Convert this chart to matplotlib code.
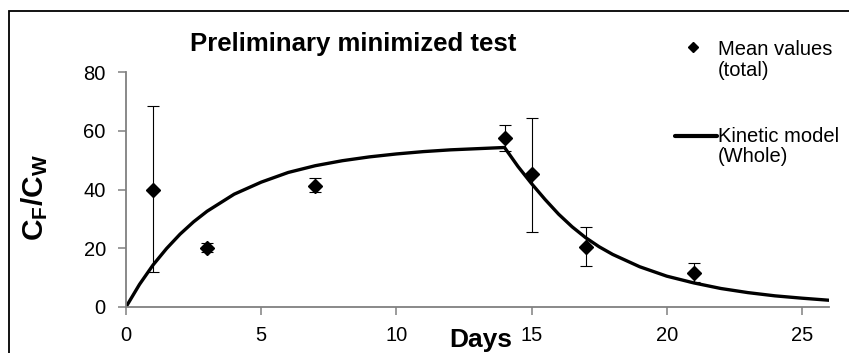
import matplotlib
matplotlib.use("Agg")
import matplotlib.pyplot as plt
from matplotlib.patches import Rectangle
from matplotlib.lines import Line2D

plt.rcParams["font.family"] = ["Liberation Sans", "DejaVu Sans"]
plt.rcParams["mathtext.fontset"] = "custom"
plt.rcParams["mathtext.rm"] = "Liberation Sans"
plt.rcParams["mathtext.bf"] = "Liberation Sans:bold"

# measured means (total) with error bar ends
days = [1, 3, 7, 14, 15, 17, 21]
means = [40.0, 20.2, 41.3, 57.6, 45.3, 20.5, 11.7]
err_low = [28.0, 1.5, 2.2, 4.6, 19.7, 6.5, 3.3]
err_high = [28.4, 1.5, 2.6, 4.5, 19.2, 6.6, 3.3]

# kinetic model (whole)
model_days = [0, 0.5, 1, 1.5, 2, 2.5, 3, 4, 5, 6, 7, 8, 9, 10, 11, 12, 13, 14,
              14.5, 15, 15.5, 16, 16.5, 17, 17.5, 18, 19, 20, 21, 22, 23, 24, 25, 26]
model_vals = [0.0, 7.7, 14.3, 19.9, 24.8, 29.0, 32.6, 38.4, 42.5, 45.8, 48.1, 49.8,
              51.1, 52.1, 52.9, 53.5, 53.9, 54.3,
              47.8, 42.0, 36.6, 31.6, 27.3, 23.6, 20.5, 17.9, 13.7, 10.5, 8.2,
              6.3, 4.9, 3.8, 3.0, 2.3]

fig = plt.figure(figsize=(8.49, 3.53), dpi=100)
ax = fig.add_axes([126 / 849, 46 / 353, 703 / 849, 235 / 353])

ax.plot(model_days, model_vals, color="black", lw=2.4, zorder=2)
ax.errorbar(days, means, yerr=[err_low, err_high], fmt="D", color="black",
            ms=7.5, elinewidth=0.8, capsize=4, capthick=0.8, zorder=3)

ax.set_xlim(0, 26)
ax.set_ylim(0, 80)
ax.set_xticks([0, 5, 10, 15, 20, 25])
ax.set_yticks([0, 20, 40, 60, 80])
for s in ["top", "right"]:
    ax.spines[s].set_visible(False)
for s in ["left", "bottom"]:
    ax.spines[s].set_color("#808080")
    ax.spines[s].set_linewidth(1.3)
ax.tick_params(direction="out", length=5.5, width=1.1, color="#808080",
               labelsize=14.5)
ax.tick_params(axis="y", pad=9)
ax.tick_params(axis="x", pad=8)

ax.set_xlabel("Days", fontsize=19, fontweight="bold", va="center")
ax.xaxis.set_label_coords(0.505, -0.14)
ax.set_ylabel(r"$\mathbf{C_F/C_W}$", fontsize=21.5, va="center")
ax.yaxis.set_label_coords(-0.13, 0.468)

ax.text(0.323, 1.12, "Preliminary minimized test", transform=ax.transAxes,
        ha="center", va="center", fontsize=18.5, fontweight="bold")

# legend drawn by hand to match the layout
ax.add_line(Line2D([0.8065], [1.106], marker="D", ms=5.5, color="black",
                   transform=ax.transAxes, clip_on=False))
ax.add_line(Line2D([0.781, 0.841], [0.728, 0.728], lw=3, color="black",
                   transform=ax.transAxes, clip_on=False, solid_capstyle="round"))
ax.text(0.842, 1.05, "Mean values\n(total)", transform=ax.transAxes,
        ha="left", va="center", fontsize=14.5, linespacing=1.12)
ax.text(0.842, 0.683, "Kinetic model\n(Whole)", transform=ax.transAxes,
        ha="left", va="center", fontsize=14.5, linespacing=1.12)

# outer frame (runs off the right and bottom edges)
fig.patches.append(Rectangle((9 / 849, -0.1), 1.2, (353 - 11) / 353 + 0.1,
                             transform=fig.transFigure, fill=False,
                             edgecolor="black", lw=1.3))

fig.savefig("out.png", dpi=100)
